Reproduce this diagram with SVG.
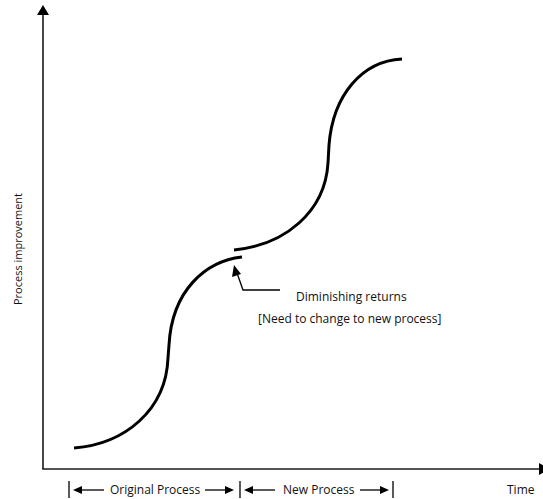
<svg xmlns="http://www.w3.org/2000/svg" width="543" height="499" viewBox="0 0 543 499">
<style>
.axis{stroke:#1a1a1a;stroke-width:1.6;fill:none}
.curve{stroke:#000;stroke-width:3;fill:none;stroke-linecap:butt}
.thin{stroke:#000;stroke-width:1.3;fill:none}
.head{fill:#000}
text{font-family:"Open Sans","Noto Sans","Liberation Sans",sans-serif;font-size:12px;fill:#111}
</style>
<rect width="543" height="499" fill="#fff"/>
<g id="axes">
<line class="axis" x1="43" y1="14" x2="43" y2="469"/>
<line class="axis" x1="42.2" y1="469" x2="540" y2="469"/>
<polygon class="head" points="43,5 37,15 49,15"/>
<polygon class="head" points="539,463 539,475 550,469"/>
</g>
<g id="ylabel"><text transform="translate(22,249) rotate(-90)" text-anchor="middle" style="font-size:11px">Process improvement</text></g>
<g id="original-curve">
<path class="curve" d="M74,448 C125,444 166,410 168,358 L169,345 C172,290 206,261 242,257"/>
</g>
<g id="new-curve">
<path class="curve" d="M234,250 C285,245 325,212 328,163 L329,145 C333,95 362,61 402,59"/>
</g>
<g id="annotation">
<polyline class="thin" points="280,290 243,290 237,273"/>
<polygon class="head" points="234,265 232,277 241,274"/>
<text x="296" y="301">Diminishing returns</text>
<text x="258" y="323">[Need to change to new process]</text>
</g>
<g id="connectors">
<line class="thin" x1="69" y1="481" x2="69" y2="498"/>
<line class="thin" x1="80" y1="490" x2="104" y2="490"/>
<polygon class="head" points="73,490 82,486 82,494"/>
<text x="110" y="494">Original Process</text>
<line class="thin" x1="205" y1="490" x2="228" y2="490"/>
<polygon class="head" points="234,490 225,486 225,494"/>
<line class="thin" x1="240" y1="481" x2="240" y2="498"/>
<line class="thin" x1="251" y1="490" x2="275" y2="490"/>
<polygon class="head" points="244,490 253,486 253,494"/>
<text x="283" y="494">New Process</text>
<line class="thin" x1="360" y1="490" x2="383" y2="490"/>
<polygon class="head" points="389,490 380,486 380,494"/>
<line class="thin" x1="393" y1="481" x2="393" y2="498"/>
<text x="507" y="494">Time</text>
</g>
</svg>
